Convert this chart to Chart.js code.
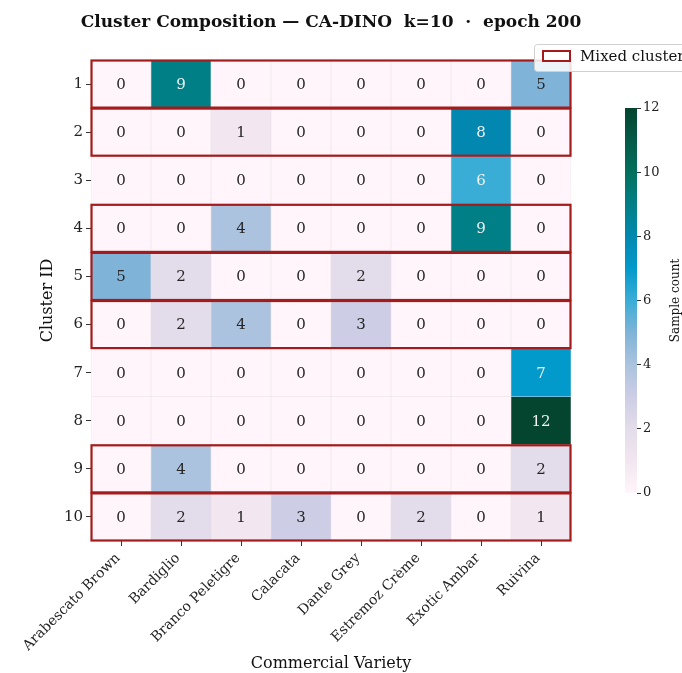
<!DOCTYPE html>
<html>
<head>
<meta charset="utf-8">
<script src="https://cdn.jsdelivr.net/npm/chart.js@4.4.1/dist/chart.umd.min.js"></script>
<style>
  body { margin: 0; background: #fff; }
  #wrap { position: relative; width: 682px; height: 673px; }
  #main { position: absolute; left: 0; top: 0; }
  #cbar { position: absolute; left: 600px; top: 90px; }
</style>
</head>
<body>
<div id="wrap">
  <canvas id="main" width="682" height="673"></canvas>
  <canvas id="cbar" width="82" height="430"></canvas>
</div>
<script>
// data
const varieties = ["Arabescato Brown", "Bardiglio", "Branco Peletigre", "Calacata", "Dante Grey", "Estremoz Crème", "Exotic Ambar", "Ruivina"];
const clusterIds = [1, 2, 3, 4, 5, 6, 7, 8, 9, 10];
const counts = [
    [0, 9, 0, 0, 0, 0, 0, 5],
    [0, 0, 1, 0, 0, 0, 8, 0],
    [0, 0, 0, 0, 0, 0, 6, 0],
    [0, 0, 4, 0, 0, 0, 9, 0],
    [5, 2, 0, 0, 2, 0, 0, 0],
    [0, 2, 4, 0, 3, 0, 0, 0],
    [0, 0, 0, 0, 0, 0, 0, 7],
    [0, 0, 0, 0, 0, 0, 0, 12],
    [0, 4, 0, 0, 0, 0, 0, 2],
    [0, 2, 1, 3, 0, 2, 0, 1]
];
const mixedClusters = [1, 2, 4, 5, 6, 9, 10];
const cbarTicks = [0, 2, 4, 6, 8, 10, 12];
const vmax = 12;

// colour for each count 0..12
const palette = ['#fff5fa', '#f2e6f0', '#e3dcea', '#cdcde5', '#abc3de', '#80b3d8', '#3aadd7',
    '#0299cb', '#0288b0', '#017f86', '#03705e', '#055a47', '#03452f'];

const serif = "'DejaVu Serif', serif";
const red = '#a51b1b';

// one floating-bar dataset per cluster row
const datasets = clusterIds.map((id, r) => ({
    label: 'Cluster ' + id,
    data: counts[r].map(() => [id - 0.5, id + 0.5]),
    backgroundColor: counts[r].map(v => palette[v]),
    borderColor: 'rgba(225,215,225,0.7)',
    borderWidth: 0.6,
    borderSkipped: false,
    barPercentage: 1,
    categoryPercentage: 1,
    grouped: false
}));

const cellText = {
    id: 'cellText',
    afterDatasetsDraw(chart) {
        const ctx = chart.ctx;
        ctx.save();
        ctx.font = '15px ' + serif;
        ctx.textAlign = 'center';
        ctx.textBaseline = 'middle';
        chart.data.datasets.forEach((ds, r) => {
            chart.getDatasetMeta(r).data.forEach((bar, c) => {
                const v = counts[r][c];
                const p = bar.getCenterPoint();
                ctx.fillStyle = v >= 6 ? '#f2f2f2' : '#262626';
                ctx.fillText(String(v), p.x, p.y + 1);
            });
        });
        ctx.restore();
    }
};

const mixedBoxes = {
    id: 'mixedBoxes',
    afterDatasetsDraw(chart) {
        const ctx = chart.ctx;
        const y = chart.scales.y;
        const a = chart.chartArea;
        ctx.save();
        ctx.strokeStyle = red;
        ctx.lineWidth = 2.2;
        mixedClusters.forEach(id => {
            const top = y.getPixelForValue(id - 0.5);
            const bot = y.getPixelForValue(id + 0.5);
            ctx.strokeRect(a.left + 0.5, top + 0.5, a.right - a.left - 1, bot - top - 1);
        });
        ctx.restore();
    }
};

const titleAndLegend = {
    id: 'titleAndLegend',
    afterDraw(chart) {
        const ctx = chart.ctx;
        const a = chart.chartArea;
        ctx.save();
        ctx.fillStyle = '#111';
        ctx.font = 'bold 17px ' + serif;
        ctx.textAlign = 'center';
        ctx.textBaseline = 'middle';
        ctx.fillText('Cluster Composition — CA-DINO  k=10  ·  epoch 200', (a.left + a.right) / 2, 23);

        // legend
        ctx.fillStyle = 'rgba(255,255,255,0.85)';
        ctx.strokeStyle = '#d0d0d0';
        ctx.lineWidth = 1;
        ctx.beginPath();
        ctx.roundRect(534.5, 44.5, 160, 27, 3);
        ctx.fill();
        ctx.stroke();
        ctx.strokeStyle = red;
        ctx.lineWidth = 2;
        ctx.fillStyle = '#fff';
        ctx.fillRect(543, 51, 27, 10);
        ctx.strokeRect(543, 51, 27, 10);
        ctx.fillStyle = '#111';
        ctx.font = '15px ' + serif;
        ctx.textAlign = 'left';
        ctx.fillText('Mixed cluster', 580, 57);
        ctx.restore();
    }
};

new Chart(document.getElementById('main'), {
    type: 'bar',
    data: { labels: varieties, datasets: datasets },
    options: {
        responsive: false,
        animation: false,
        layout: { padding: { top: 60, right: 111, left: 0, bottom: 0 } },
        plugins: { legend: { display: false }, tooltip: { enabled: false } },
        scales: {
            x: {
                type: 'category',
                grid: { display: true, offset: false, drawOnChartArea: false, tickLength: 5, color: '#333' },
                border: { display: false },
                ticks: { color: '#222', font: { family: serif, size: 14 }, minRotation: 45, maxRotation: 45, padding: 4, labelOffset: -3 },
                title: { display: true, text: 'Commercial Variety', color: '#111', font: { family: serif, size: 16 }, padding: { top: 0, bottom: 0 } },
                afterFit: s => { s.height = 132; }
            },
            y: {
                type: 'linear',
                reverse: true,
                min: 0.5,
                max: 10.5,
                afterBuildTicks: s => { s.ticks = clusterIds.map(v => ({ value: v })); },
                grid: { display: true, drawOnChartArea: false, tickLength: 5, color: '#333' },
                border: { display: false },
                ticks: { color: '#222', font: { family: serif, size: 15 }, padding: 3 },
                title: { display: true, text: 'Cluster ID', color: '#111', font: { family: serif, size: 16 }, padding: { top: 38 } },
                afterFit: s => { s.width = 91; }
            }
        }
    },
    plugins: [cellText, mixedBoxes, titleAndLegend]
});

// colorbar
const cbTitle = {
    id: 'cbTitle',
    afterDraw(chart) {
        const ctx = chart.ctx;
        const a = chart.chartArea;
        ctx.save();
        ctx.translate(76, (a.top + a.bottom) / 2);
        ctx.rotate(-Math.PI / 2);
        ctx.font = '12px ' + serif;
        ctx.fillStyle = '#111';
        ctx.textAlign = 'center';
        ctx.textBaseline = 'middle';
        ctx.fillText('Sample count', 0, 0);
        ctx.restore();
    }
};

new Chart(document.getElementById('cbar'), {
    type: 'bar',
    data: {
        labels: ['count'],
        datasets: [{
            data: [[0, vmax]],
            barPercentage: 1,
            categoryPercentage: 1,
            borderWidth: 0,
            backgroundColor: ctx => {
                const a = ctx.chart.chartArea;
                if (!a) return palette[0];
                const g = ctx.chart.ctx.createLinearGradient(0, a.bottom, 0, a.top);
                palette.forEach((c, i) => g.addColorStop(i / vmax, c));
                return g;
            }
        }]
    },
    options: {
        responsive: false,
        animation: false,
        layout: { padding: { left: 25, top: 18, bottom: 27, right: 0 } },
        plugins: { legend: { display: false }, tooltip: { enabled: false } },
        scales: {
            x: { display: false },
            y: {
                position: 'right',
                min: 0,
                max: vmax,
                afterBuildTicks: s => { s.ticks = cbarTicks.map(v => ({ value: v })); },
                grid: { drawOnChartArea: false, tickLength: 4, color: '#333' },
                border: { display: false },
                ticks: { color: '#222', font: { family: serif, size: 13 }, padding: 2 },
                afterFit: s => { s.width = 45; }
            }
        }
    },
    plugins: [cbTitle]
});
</script>
</body>
</html>
